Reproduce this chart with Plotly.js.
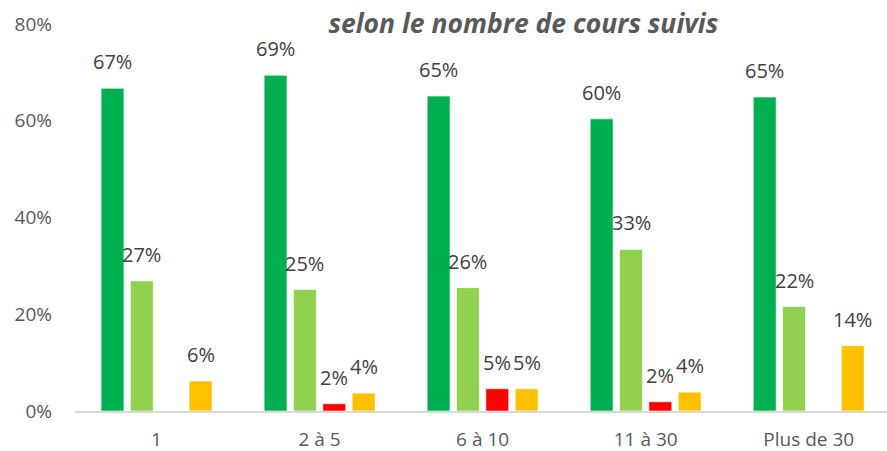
<!DOCTYPE html>
<html><head><meta charset="utf-8">
<script src="https://cdn.plot.ly/plotly-3.0.1.min.js"></script>
<style>html,body{margin:0;padding:0;background:#fff}#chart{width:887px;height:451px}</style>
</head><body><div id="chart"></div>
<script>
const categories = ["1", "2 à 5", "6 à 10", "11 à 30", "Plus de 30"];
const seriesA = [66.7, 69.4, 65.1, 60.4, 64.9];
const seriesB = [26.9, 25.1, 25.5, 33.4, 21.6];
const seriesC = [null, 1.5, 4.6, 1.9, null];
const seriesD = [6.2, 3.7, 4.6, 3.9, 13.5];
const colors = ["#00B050", "#92D050", "#FF0000", "#FFC000"];
const yTickVals = [0, 20, 40, 60, 80];
const yTickText = ["0%", "20%", "40%", "60%", "80%"];
const titleText = "selon le nombre de cours suivis";

const font = "Open Sans, Noto Sans, sans-serif";
const BARGAP = 0.28, GROUPGAP = 0.22;
const allSeries = [seriesA, seriesB, seriesC, seriesD];

const data = allSeries.map((vals, i) => ({
  type: "bar", x: categories, y: vals,
  marker: {color: colors[i], line: {color: "rgba(255,255,255,0.6)", width: 1}},
  hoverinfo: "none"
}));

const annotations = [];
const slot = (1 - BARGAP) / allSeries.length;
allSeries.forEach((vals, i) => {
  vals.forEach((v, j) => {
    if (v == null) return;
    annotations.push({
      x: j + (i - (allSeries.length - 1) / 2) * slot, y: v, xref: "x", yref: "y",
      text: Math.round(v) + "%", showarrow: false, yanchor: "bottom", xanchor: "center",
      yshift: 11, font: {family: font, size: 20, color: "#404040"}
    });
  });
});

const layout = {
  width: 887, height: 451,
  margin: {l: 75, r: 0, t: 24, b: 40},
  paper_bgcolor: "#fff", plot_bgcolor: "#fff",
  showlegend: false,
  barmode: "group", bargap: BARGAP, bargroupgap: GROUPGAP,
  title: {text: "<b><i>" + titleText + "</i></b>", x: 0.59, xanchor: "center", y: 0.948, yanchor: "middle",
          font: {family: font, size: 26.5, color: "#595959"}},
  xaxis: {range: [-0.5, 4.48], showline: true, linecolor: "#D9D9D9", linewidth: 1.5,
          ticks: "", showgrid: false, zeroline: false, ticklabelstandoff: 11,
          tickfont: {family: font, size: 19, color: "#595959"}},
  yaxis: {range: [0, 80], tickvals: yTickVals, ticktext: yTickText, showgrid: false, zeroline: false,
          showline: false, ticks: "", ticklabelstandoff: 22,
          tickfont: {family: font, size: 19, color: "#595959"}},
  annotations: annotations
};
Plotly.newPlot("chart", data, layout, {displayModeBar: false, staticPlot: true});
</script></body></html>
